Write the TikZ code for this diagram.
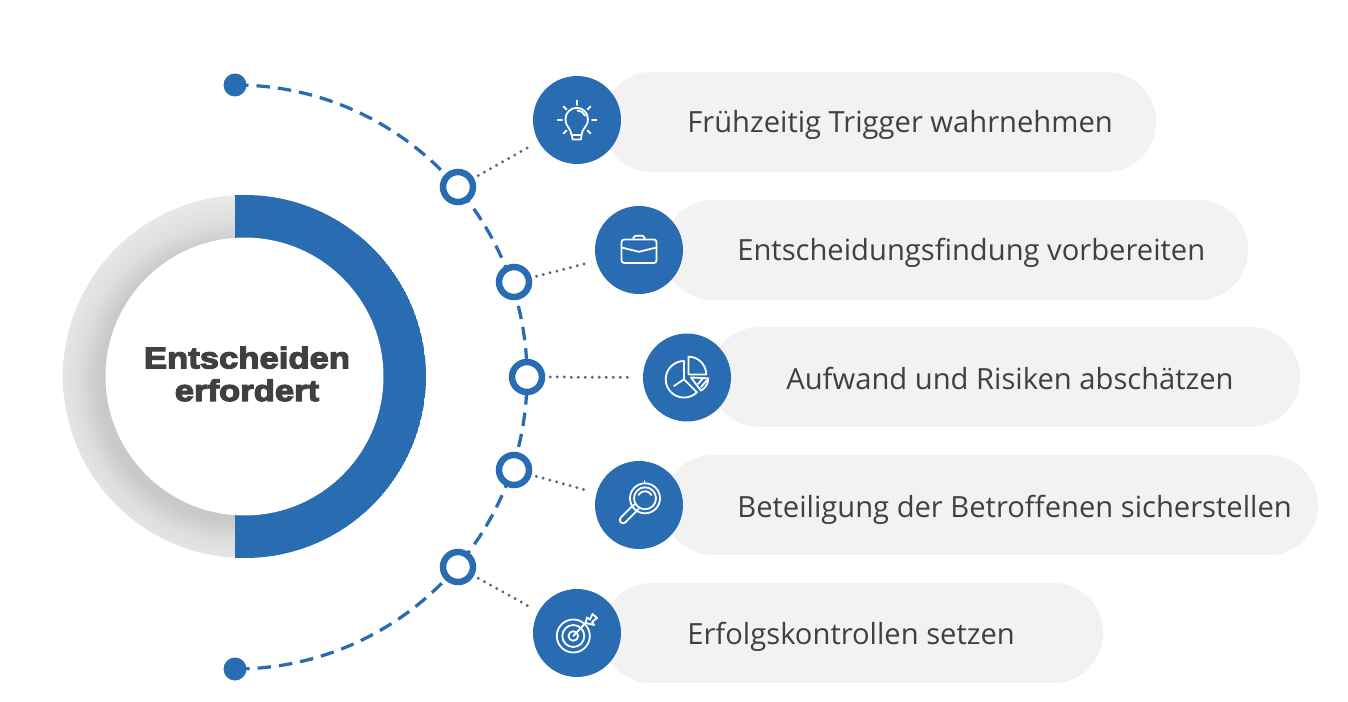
\documentclass[tikz,border=0pt]{standalone}
\usepackage{fontspec}
\setmainfont{Open Sans}
\newfontfamily\titlefont[FakeBold=4,FakeStretch=1.16]{Liberation Sans Bold}
\usetikzlibrary{calc,positioning}
\definecolor{entblue}{RGB}{41,108,178}
\definecolor{entpill}{RGB}{242,242,242}
\definecolor{enttext}{RGB}{64,64,64}
\definecolor{entdots}{RGB}{84,104,128}
% Schatten im grauen Ring: innen dunkel, aussen hell
\pgfdeclareradialshading{ringshade}{\pgfpoint{0bp}{0bp}}{%
  color(0bp)=(black!21);color(17.4bp)=(black!21);color(20bp)=(black!13);
  color(23bp)=(black!9);color(25bp)=(black!8);color(50bp)=(black!8)}
\tikzset{
  pillbox/.style={fill=entpill,rounded corners=0.99cm,minimum height=2cm,inner sep=0},
  iconbox/.style={circle,fill=entblue,minimum size=1.76cm,inner sep=0},
  ringbox/.style={circle,draw=entblue,fill=white,line width=0.13cm,minimum size=0.6cm,inner sep=0},
  dotbox/.style={circle,fill=entblue,minimum size=0.46cm,inner sep=0},
  pilltext/.style={anchor=base west,text=enttext,font=\fontsize{16.6}{20}\selectfont,inner sep=0},
  arcline/.style={entblue,line width=0.065cm,dash pattern=on 0.27cm off 0.16cm},
  dotline/.style={entdots,line width=0.065cm,line cap=round,dash pattern=on 0pt off 0.14cm,shorten <=0.1cm,shorten >=0.17cm},
  iconline/.style={white,line width=0.036cm,line cap=round,line join=round},
}
\begin{document}
\begin{tikzpicture}[x=0.02cm,y=-0.02cm]
\useasboundingbox (0,0) rectangle (1348,702);
\fill[white] (0,0) rectangle (1348,702);
% Kreis links
\begin{scope}
  \clip (244.5,376.5) circle (181.5);
  \shade[shading=ringshade] (238,382) circle (200);
  \clip (235,180) rectangle (440,570);
  \fill[entblue] (244.5,376.5) circle (181.5);
\end{scope}
\node[circle,fill=white,minimum size=5.56cm,inner sep=0] (hub) at (244.5,376.5) {};
\node[text=enttext,font=\titlefont\fontsize{17}{18.6}\selectfont,align=center] (title) at (247,374) {Entscheiden\\erfordert};
% gestrichelter Bogen
\coordinate (arctop) at (235,85);
\draw[arcline] (arctop) arc[start angle=-90,end angle=90,radius=292];
\node[dotbox] (dottop) at (arctop) {};
\node[dotbox] (dotbottom) at (235,669) {};
% Balken
\node[pillbox,minimum width=11.08cm] (pill1) at (879,122) {};
\node[pillbox,minimum width=11.7cm] (pill2) at (955.5,250) {};
\node[pillbox,minimum width=11.8cm] (pill3) at (1005,377) {};
\node[pillbox,minimum width=13.1cm] (pill4) at (990.5,505) {};
\node[pillbox,minimum width=10.02cm] (pill5) at (852.5,633) {};
\node[pilltext] (text1) at (687,133) {Frühzeitig Trigger wahrnehmen};
\node[pilltext] (text2) at (737,260.5) {Entscheidungsfindung vorbereiten};
\node[pilltext] (text3) at (786,389) {Aufwand und Risiken abschätzen};
\node[pilltext] (text4) at (737,517) {Beteiligung der Betroffenen sicherstellen};
\node[pilltext] (text5) at (687,644) {Erfolgskontrollen setzen};
% Ringe und Symbolkreise
\node[iconbox] (icon1) at (577,120) {};
\node[iconbox] (icon2) at (639,250) {};
\node[iconbox] (icon3) at (687,377.5) {};
\node[iconbox] (icon4) at (639,505) {};
\node[iconbox] (icon5) at (577,633) {};
\node[ringbox] (ring1) at (458,187) {};
\node[ringbox] (ring2) at (514,282) {};
\node[ringbox] (ring3) at (527,377) {};
\node[ringbox] (ring4) at (514,470) {};
\node[ringbox] (ring5) at (458,567) {};
\draw[dotline] (ring1) -- (icon1);
\draw[dotline] (ring2) -- (icon2);
\draw[dotline] (ring3) -- (icon3);
\draw[dotline] (ring4) -- (icon4);
\draw[dotline] (ring5) -- (icon5);
% Gluehbirne
\draw[iconline] (571.5,135) .. controls (571,128) and (565.5,127) .. (565.5,119)
  arc[start angle=180,end angle=360,radius=11.2]
  .. controls (588,127) and (582,128) .. (581.5,135) -- cycle;
\draw[iconline] (572,135) -- (572.5,139.5) -- (581,139.5) -- (581.5,135);
\draw[iconline] (577.5,110.5) arc[start angle=-90,end angle=-20,radius=8];
\draw[iconline] (577,100.5) -- (577,105);
\draw[iconline] (557.5,120) -- (562,120);
\draw[iconline] (592,120) -- (596.5,120);
\draw[iconline] (563.5,106.5) -- (566.5,109.5);
\draw[iconline] (590.5,106.5) -- (587.5,109.5);
\draw[iconline] (563.5,133.5) -- (566.5,130.5);
\draw[iconline] (590.5,133.5) -- (587.5,130.5);
% Aktentasche
\draw[iconline,rounded corners=1.5] (621.5,239.5) rectangle (656.5,263);
\draw[iconline,rounded corners=1] (633.5,239.5) -- (633.5,235.8) -- (644.5,235.8) -- (644.5,239.5);
\draw[iconline] (621.5,247.5) -- (639,251.8) -- (656.5,247.5);
% Kreisdiagramm
\draw[iconline] (684,361) arc[start angle=-90,end angle=-315,radius=18.3];
\draw[iconline] (684,361) -- (684,379.3) -- (696.9,392.2);
\draw[iconline] (684,379.3) -- (674,386);
\draw[iconline] (688.5,356.7) arc[start angle=-90,end angle=0,radius=17.7] -- (688.5,374.4) -- cycle;
\draw[iconline] (691,377.5) -- (708.3,378.3) arc[start angle=0,end angle=62,radius=14] -- cycle;
\draw[iconline] (698,384) -- (703,378.2);
\draw[iconline] (701,387) -- (707,380);
% Lupe
\draw[iconline] (645,498.3) circle (15);
\draw[iconline] (645,498.3) circle (11);
\draw[iconline] (638.5,495) arc[start angle=-150,end angle=-30,radius=7.5];
\draw[iconline] (644.5,481) -- (644.5,481.8);
\draw[iconline] (631.2,507.2) -- (620.7,517.7) arc[start angle=225,end angle=45,radius=3.3] -- (635.8,511.8);
\draw[iconline] (631.2,507.2) -- (634.5,504.5);
\draw[iconline] (635.8,511.8) -- (638.5,509);
% Zielscheibe
\draw[iconline] (573.3,636) circle (16.5);
\draw[iconline] (573.3,636) circle (11);
\draw[iconline] (573.3,636) circle (4.8);
\draw[iconline] (573.3,636) -- (586,622.5);
\draw[iconline] (585.5,623) -- (587,617.5) -- (590,619.5) -- (592.5,614) -- (597,618) -- (592,622) -- (594,625) -- cycle;
\end{tikzpicture}
\end{document}
